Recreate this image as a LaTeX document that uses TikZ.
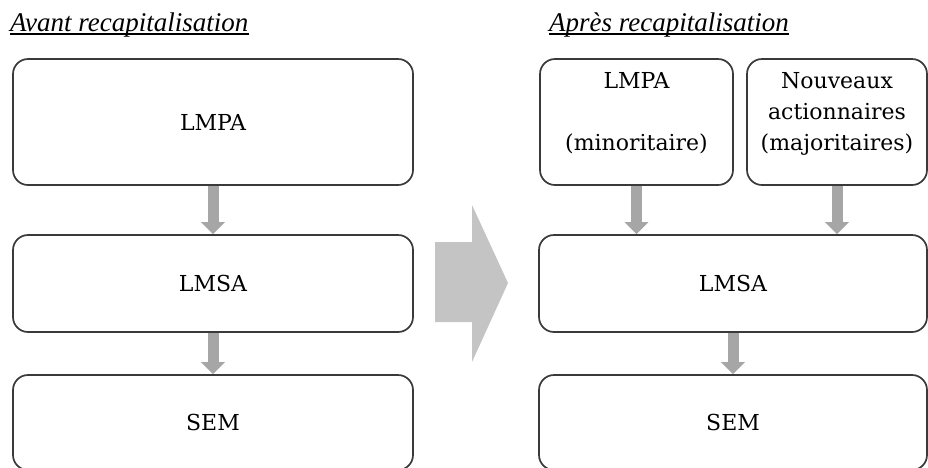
\documentclass[tikz,border=0pt]{standalone}
\usepackage{fontspec}
\setmainfont{Liberation Serif}
\newfontfamily\boxfont{DejaVu Serif}
\usetikzlibrary{arrows.meta}
\definecolor{boxline}{HTML}{3A3A3A}
\definecolor{arrgray}{HTML}{A6A6A6}
\definecolor{biggray}{HTML}{C4C4C4}
\begin{document}
\begin{tikzpicture}[x=1pt,y=-1pt,
  box/.style={draw=boxline, line width=1.7pt, rounded corners=15pt, fill=white,
    font=\boxfont\fontsize{22}{32}\selectfont, align=center, inner sep=0pt},
  lbl/.style={font=\boxfont\fontsize{22}{32}\selectfont, inner sep=0pt, anchor=base},
  titletext/.style={font=\fontsize{27}{30}\selectfont\itshape, anchor=base west, inner sep=0pt},
  smallarr/.style={draw=arrgray, line width=11pt, -{Triangle[width=23pt,length=12pt]}},
  uline/.style={line width=1.5pt}]
\useasboundingbox (0,0) rectangle (928,467);
% titles
\node[titletext] (t1) at (10,31) {Avant recapitalisation};
\node[titletext] (t2) at (549,31) {Après recapitalisation};
\draw[uline] ([yshift=-3pt]t1.base west) -- ([yshift=-3pt]t1.base east);
\draw[uline] ([yshift=-3pt]t2.base west) -- ([yshift=-3pt]t2.base east);
% left column
\node[box, minimum width=400pt, minimum height=126pt] (l1) at (213,122) {LMPA};
\node[box, minimum width=400pt, minimum height=97pt] (l2) at (213,283.5) {LMSA};
\node[box, minimum width=400pt, minimum height=95pt] (l3) at (213,422.5) {SEM};
% right column
\node[box, minimum width=193pt, minimum height=126pt] (r1) at (636.5,122) {};
\node[box, minimum width=180pt, minimum height=126pt] (r2) at (837,122) {};
\node[box, minimum width=388pt, minimum height=97pt] (r3) at (733,283.5) {LMSA};
\node[box, minimum width=388pt, minimum height=95pt] (r4) at (733,422.5) {SEM};
\node[lbl] (r1a) at (636.5,88) {LMPA};
\node[lbl] (r1b) at (636.5,150) {(minoritaire)};
\node[lbl] (r2a) at (837,88) {Nouveaux};
\node[lbl] (r2b) at (837,119) {actionnaires};
\node[lbl] (r2c) at (837,150) {(majoritaires)};
% connectors
\draw[smallarr] (l1.south) -- (l2.north);
\draw[smallarr] (l2.south) -- (l3.north);
\draw[smallarr] (r1.south) -- (r1.south |- r3.north);
\draw[smallarr] (r2.south) -- (r2.south |- r3.north);
\draw[smallarr] (r3.south) -- (r4.north);
% big arrow
\fill[biggray] (435,242) -- (472,242) -- (472,205) -- (508,283) -- (472,362)
  -- (472,322) -- (435,322) -- cycle;
\end{tikzpicture}
\end{document}
